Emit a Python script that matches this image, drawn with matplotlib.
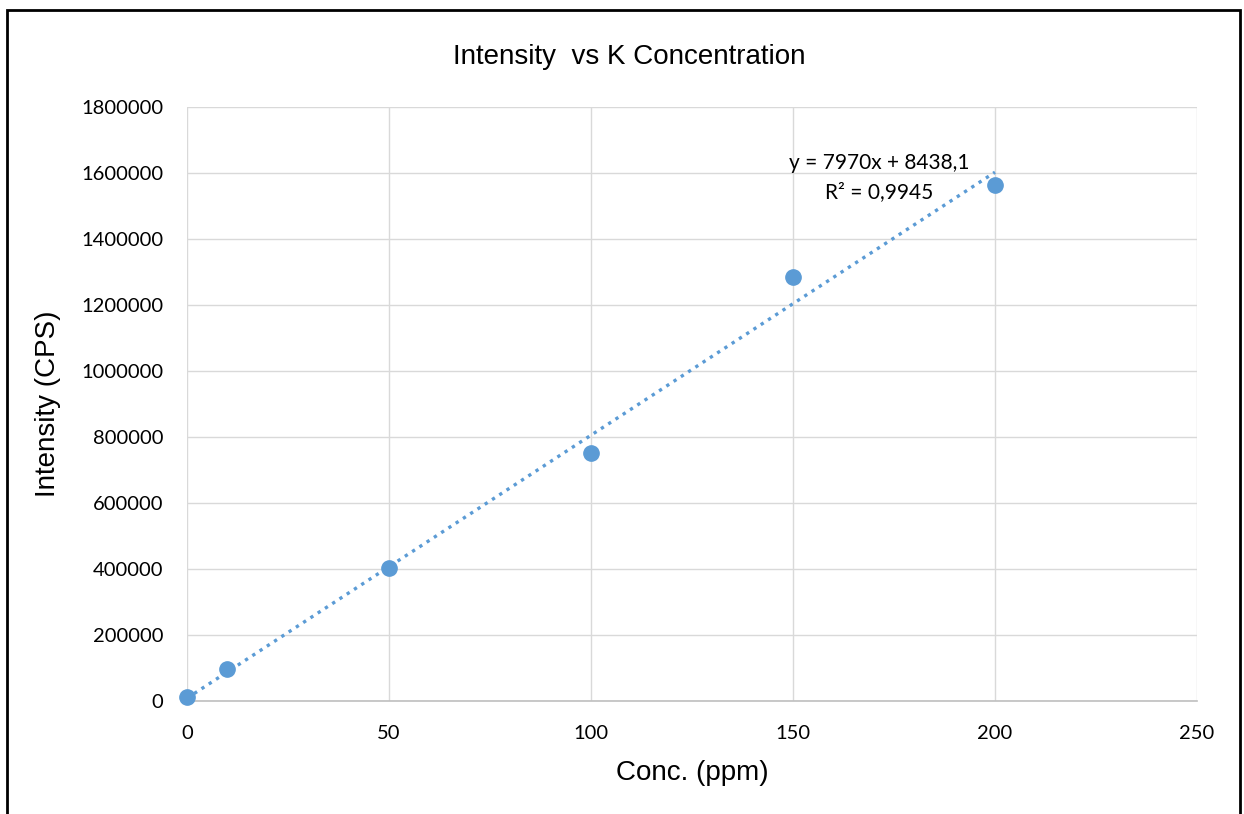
import matplotlib
matplotlib.use("Agg")
import matplotlib.pyplot as plt
import numpy as np
from matplotlib.patches import Rectangle

conc = [0, 10, 50, 100, 150, 200]
intensity = [12000, 96000, 403000, 752000, 1286000, 1564000]
slope = 7970
intercept = 8438.1
eq_text = "y = 7970x + 8438,1"
r2_text = "R² = 0,9945"
x_ticks = [0, 50, 100, 150, 200, 250]
y_ticks = [0, 200000, 400000, 600000, 800000, 1000000, 1200000, 1400000, 1600000, 1800000]

blue = "#5B9BD5"
tick_font = "Lato"
lab_font = "Liberation Sans"

fig = plt.figure(figsize=(12.44, 8.14), dpi=100)
ax = fig.add_axes([187/1244, 1-701/814, 1010/1244, 594/814])

# outer frame
fig.patches.append(Rectangle((7/1244, -0.05), (1240-7)/1244, 1.05-10/814,
                             transform=fig.transFigure, fill=False,
                             edgecolor="black", linewidth=2, zorder=0))

tx = np.array([conc[0], conc[-1]])
ax.plot(tx, slope*tx + intercept, linestyle=(0, (1, 1.6)), color=blue,
        linewidth=2.4, zorder=3)
ax.plot(conc, intensity, "o", color=blue, markersize=11, zorder=4, clip_on=False)

ax.set_xlim(0, 250)
ax.set_ylim(0, 1800000)
ax.set_xticks(x_ticks)
ax.set_yticks(y_ticks)
ax.set_xticklabels([str(v) for v in x_ticks], fontfamily=tick_font, fontsize=14.5)
ax.set_yticklabels([str(v) for v in y_ticks], fontfamily=tick_font, fontsize=14.5)
ax.tick_params(axis="x", length=0, pad=17)
ax.tick_params(axis="y", length=0, pad=17)
ax.grid(True, color="#D9D9D9", linewidth=1)
ax.set_axisbelow(True)
for s in ["top", "right", "left"]:
    ax.spines[s].set_visible(False)
ax.spines["bottom"].set_color("#BFBFBF")
ax.spines["bottom"].set_linewidth(1.2)

ax.set_xlabel("Conc. (ppm)", fontfamily=lab_font, fontsize=20, va="center")
ax.set_ylabel("Intensity (CPS)", fontfamily=lab_font, fontsize=20, va="center")
ax.xaxis.set_label_coords(0.5, (701-773)/594)
ax.yaxis.set_label_coords((48-187)/1010, 0.5)
fig.text(629/1244, 1-57/814, "Intensity  vs K Concentration", ha="center", va="center",
         fontfamily=lab_font, fontsize=20)

ax.text(171.3, 1630000, eq_text, ha="center", va="center", fontfamily=tick_font, fontsize=15)
ax.text(171.3, 1542000, r2_text, ha="center", va="center", fontfamily=tick_font, fontsize=15)

fig.savefig("out.png", dpi=100)
